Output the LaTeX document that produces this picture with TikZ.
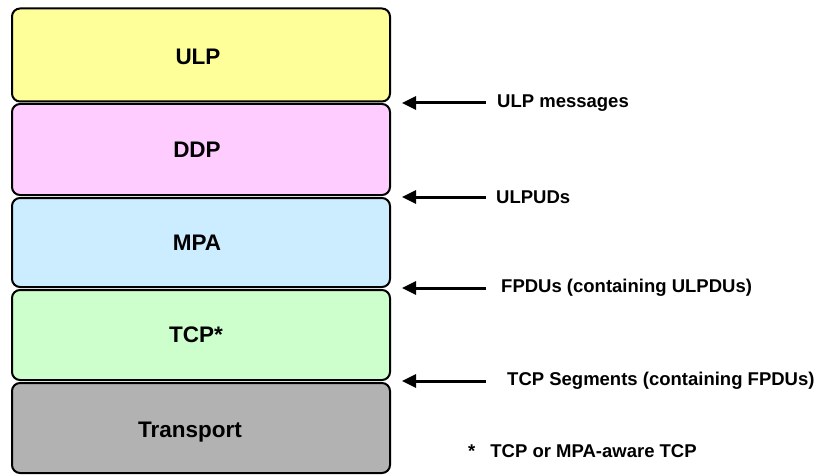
\documentclass[tikz,border=0pt]{standalone}
\usepackage{fontspec}
\setmainfont{Liberation Sans}
\usetikzlibrary{arrows.meta}
\definecolor{ulpfill}{HTML}{FFFF99}
\definecolor{ddpfill}{HTML}{FFCCFF}
\definecolor{mpafill}{HTML}{CCECFF}
\definecolor{tcpfill}{HTML}{CCFFCC}
\definecolor{trnfill}{HTML}{B2B2B2}
\tikzset{
  layer/.style={draw=black, line width=2pt, rounded corners=8pt,
    minimum width=378pt, inner sep=0pt},
  layertext/.style={inner sep=0pt,
    font=\fontsize{22.5}{26}\selectfont\bfseries},
  msg/.style={anchor=west, inner sep=0pt,
    font=\fontsize{18.5}{22}\selectfont\bfseries},
  flow/.style={line width=3pt, -{Triangle[length=14pt,width=13pt]}},
}
\begin{document}
\begin{tikzpicture}[x=1pt,y=-1pt]
  \useasboundingbox (0,0) rectangle (819,476);
  % protocol stack
  \node[layer, fill=ulpfill, minimum height=93pt] (ulp) at (201,55) {};
  \node[layer, fill=ddpfill, minimum height=91pt] (ddp) at (201,149.5) {};
  \node[layer, fill=mpafill, minimum height=89pt] (mpa) at (201,242.5) {};
  \node[layer, fill=tcpfill, minimum height=90pt] (tcp) at (201,335) {};
  \node[layer, fill=trnfill, minimum height=90pt] (trn) at (201,428) {};
  \node[layertext] (ulpt) at ([xshift=-3pt,yshift=-2pt]ulp.center) {ULP};
  \node[layertext] (ddpt) at ([xshift=-4pt]ddp.center) {DDP};
  \node[layertext] (mpat) at ([xshift=-4pt]mpa.center) {MPA};
  \node[layertext] (tcpt) at ([xshift=-5pt]tcp.center) {TCP*};
  \node[layertext] (trnt) at ([xshift=-11pt,yshift=-4pt]trn.center) {Transport};
  % arrow tips at the layer boundaries
  \coordinate (b1) at (402,103);
  \coordinate (b2) at (402,197);
  \coordinate (b3) at (402,288);
  \coordinate (b4) at (402,381);
  % data unit labels
  \node[msg] (m1) at (497,103) {ULP messages};
  \node[msg] (m2) at (496,197) {ULPUDs};
  \node[msg] (m3) at (501,288) {FPDUs (containing ULPDUs)};
  \node[msg] (m4) at (507,381) {TCP Segments (containing FPDUs)};
  \draw[flow] ([xshift=-11pt]m1.west) -- (b1);
  \draw[flow] ([xshift=-10pt]m2.west) -- (b2);
  \draw[flow] ([xshift=-15pt]m3.west) -- (b3);
  \draw[flow] ([xshift=-21pt]m4.west) -- (b4);
  % footnote
  \node[msg] (note) at (468,451) {*\hspace{15pt}TCP or MPA-aware TCP};
\end{tikzpicture}
\end{document}
